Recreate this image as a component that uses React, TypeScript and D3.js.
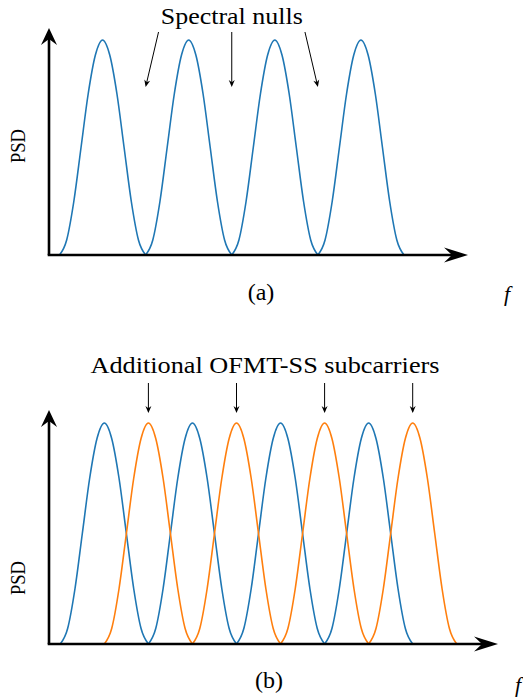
import React from 'react';
import * as d3 from 'd3';

// lobe profile: PSD of one subcarrier, null to null (13 samples)
const lobeProfile = [0, 0.07, 0.25, 0.5, 0.75, 0.93, 1, 0.93, 0.75, 0.5, 0.25, 0.07, 0];

// where each lobe starts, in subcarrier-spacing units
const topLobes = [0, 1, 2, 3];
const bottomBlueLobes = [0, 1, 2, 3];
const bottomOrangeLobes = [0.5, 1.5, 2.5, 3.5];

// null / subcarrier markers for the annotation arrows
const nullPositions = [1, 2, 3];
const extraCarrierPeaks = [1, 2, 3, 4];

const BLUE = '#1f77b4';
const ORANGE = '#ff7f0e';
const FONT = '"Liberation Serif", serif';

const lobePoints = (start: number) =>
  lobeProfile.map((v, i) => ({ f: start + i / (lobeProfile.length - 1), p: v }));

// stealth-style arrowhead pointing along (dx,dy)
const stealth = (tx: number, ty: number, dx: number, dy: number, len: number, half: number, back: number) => {
  const n = Math.hypot(dx, dy);
  const ux = dx / n, uy = dy / n;
  const px = -uy, py = ux;
  const bx = tx - ux * len, by = ty - uy * len;
  const ix = tx - ux * (len - back), iy = ty - uy * (len - back);
  return `M${tx},${ty}L${bx + px * half},${by + py * half}L${ix},${iy}L${bx - px * half},${by - py * half}Z`;
};

const Axes = ({ x0, y0, xTip, yTip }: { x0: number; y0: number; xTip: number; yTip: number }) => (
  <g>
    <line x1={x0} y1={y0} x2={x0} y2={yTip + 8} stroke="#000" strokeWidth={2.6} />
    <line x1={x0 - 1.3} y1={y0} x2={xTip - 8} y2={y0} stroke="#000" strokeWidth={2.6} />
    <path d={stealth(x0, yTip, 0, -1, 17, 8, 6)} fill="#000" />
    <path d={stealth(xTip, y0, 1, 0, 24, 7.5, 8)} fill="#000" />
  </g>
);

const Arrow = ({ x1, y1, x2, y2 }: { x1: number; y1: number; x2: number; y2: number }) => (
  <g>
    <line x1={x1} y1={y1} x2={x2 - (x2 - x1) * 0.05} y2={y2 - (y2 - y1) * 0.05} stroke="#000" strokeWidth={1} />
    <path d={stealth(x2, y2, x2 - x1, y2 - y1, 7, 3, 2.2)} fill="#000" />
  </g>
);

export default function App() {
  // panel (a)
  const xa = d3.scaleLinear().domain([0, 4]).range([59.5, 404]);
  const ya = d3.scaleLinear().domain([0, 1]).range([255, 40]);
  const lineA = d3.line<{ f: number; p: number }>().x(d => xa(d.f)).y(d => ya(d.p)).curve(d3.curveMonotoneX);

  // panel (b)
  const xb = d3.scaleLinear().domain([0, 4]).range([60.3, 412.7]);
  const yb = d3.scaleLinear().domain([0, 1]).range([644, 423]);
  const lineB = d3.line<{ f: number; p: number }>().x(d => xb(d.f)).y(d => yb(d.p)).curve(d3.curveMonotoneX);

  const nullTop = 32;
  const nullBottom = 87;
  const titleX = xa(2);

  return (
    <svg width={523} height={698} style={{ position: 'absolute', left: 0, top: 0 }}>
      <rect width={523} height={698} fill="#fff" />

      {/* (a) */}
      {topLobes.map(s => (
        <path key={'a' + s} d={lineA(lobePoints(s)) || ''} fill="none" stroke={BLUE} strokeWidth={1.6} />
      ))}
      <Axes x0={49} y0={255} xTip={468} yTip={28} />
      <text x={titleX} y={23.5} textAnchor="middle" fontFamily={FONT} fontSize={24} textLength={142} lengthAdjust="spacingAndGlyphs">
        Spectral nulls
      </text>
      {nullPositions.map(n => (
        <Arrow key={'n' + n} x1={titleX + (xa(n) - titleX) * 0.85} y1={nullTop} x2={xa(n)} y2={nullBottom} />
      ))}
      <text transform="translate(25,146) rotate(-90)" textAnchor="middle" fontFamily={FONT} fontSize={21} textLength={34} lengthAdjust="spacingAndGlyphs">
        PSD
      </text>
      <text x={261} y={300} textAnchor="middle" fontFamily={FONT} fontSize={24}>(a)</text>
      <text x={507} y={301} textAnchor="middle" fontFamily={FONT} fontStyle="italic" fontSize={22}>f</text>

      {/* (b) */}
      {bottomBlueLobes.map(s => (
        <path key={'bb' + s} d={lineB(lobePoints(s)) || ''} fill="none" stroke={BLUE} strokeWidth={1.6} />
      ))}
      {bottomOrangeLobes.map(s => (
        <path key={'bo' + s} d={lineB(lobePoints(s)) || ''} fill="none" stroke={ORANGE} strokeWidth={1.6} />
      ))}
      <Axes x0={49} y0={644} xTip={498} yTip={410} />
      <text x={265} y={373} textAnchor="middle" fontFamily={FONT} fontSize={24} textLength={349} lengthAdjust="spacingAndGlyphs">
        Additional OFMT-SS subcarriers
      </text>
      {extraCarrierPeaks.map(c => (
        <Arrow key={'c' + c} x1={xb(c)} y1={383} x2={xb(c)} y2={413} />
      ))}
      <text transform="translate(25,578) rotate(-90)" textAnchor="middle" fontFamily={FONT} fontSize={21} textLength={34} lengthAdjust="spacingAndGlyphs">
        PSD
      </text>
      <text x={269} y={688} textAnchor="middle" fontFamily={FONT} fontSize={24}>(b)</text>
      <text x={518} y={692} textAnchor="middle" fontFamily={FONT} fontStyle="italic" fontSize={22}>f</text>
    </svg>
  );
}
